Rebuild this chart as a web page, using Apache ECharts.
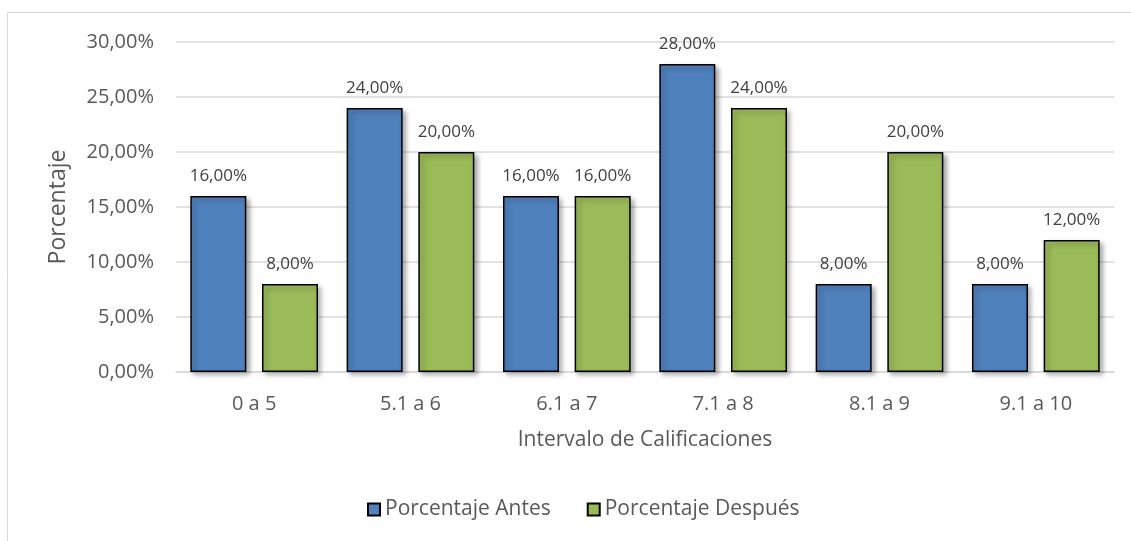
<!DOCTYPE html>
<html><head><meta charset="utf-8">
<script src="https://cdn.jsdelivr.net/npm/echarts@6/dist/echarts.min.js"></script>
<style>html,body{margin:0;padding:0;background:#fff}#c{width:1131px;height:541px}</style>
</head><body><div id="c"></div>
<script>
const categories = ['0 a 5','5.1 a 6','6.1 a 7','7.1 a 8','8.1 a 9','9.1 a 10'];
const antes = [16, 24, 16, 28, 8, 8];
const despues = [8, 20, 16, 24, 20, 12];
const seriesNames = ['Porcentaje Antes','Porcentaje Después'];
const yTicks = [0,5,10,15,20,25,30];
const fmt = v => v.toFixed(2).replace('.', ',') + '%';
const font = '"Open Sans", "Noto Sans", sans-serif';
const chart = echarts.init(document.getElementById('c'));
const barStyle = color => ({color, borderColor:'#000', borderWidth:1.5, shadowColor:'rgba(0,0,0,0.35)', shadowBlur:5, shadowOffsetX:3, shadowOffsetY:3});
chart.setOption({
  animation:false,
  textStyle:{fontFamily:font},
  graphic:[{type:'rect', shape:{x:7.5,y:12.5,width:1140,height:540}, style:{fill:'none', stroke:'#d9d9d9', lineWidth:1}}],
  grid:{left:176, right:17, top:42, bottom:169, containLabel:false},
  legend:{bottom:16, left:362, itemWidth:12, itemHeight:12, itemGap:36,
    textStyle:{fontSize:21, color:'#595959', fontFamily:font},
    data:seriesNames.map(n=>({name:n, icon:'rect'}))},
  xAxis:{type:'category', data:categories,
    axisLine:{lineStyle:{color:'#d9d9d9', width:1.5}}, axisTick:{show:false},
    axisLabel:{fontSize:20, color:'#595959', margin:22, fontFamily:font},
    name:'Intervalo de Calificaciones', nameLocation:'middle', nameGap:58,
    nameTextStyle:{fontSize:21, color:'#595959', fontFamily:font}},
  yAxis:{type:'value', min:0, max:30, interval:5,
    splitLine:{lineStyle:{color:'#d9d9d9', width:1.5}},
    axisLine:{show:false}, axisTick:{show:false},
    axisLabel:{fontSize:20, color:'#595959', margin:22, fontFamily:font, formatter:v=>yTicks.includes(v)?fmt(v):''},
    name:'Porcentaje', nameLocation:'middle', nameGap:106, nameRotate:90,
    nameTextStyle:{fontSize:23, color:'#595959', fontFamily:font}},
  series:[
    {name:seriesNames[0], type:'bar', data:antes, barWidth:56, barGap:'28%', itemStyle:barStyle('#4f81bd'),
      label:{show:true, position:'top', distance:11, fontSize:17, color:'#404040', fontFamily:font, formatter:p=>fmt(p.value)}},
    {name:seriesNames[1], type:'bar', data:despues, barWidth:56, itemStyle:barStyle('#9bbb59'),
      label:{show:true, position:'top', distance:11, fontSize:17, color:'#404040', fontFamily:font, formatter:p=>fmt(p.value)}}
  ]
});
</script></body></html>
